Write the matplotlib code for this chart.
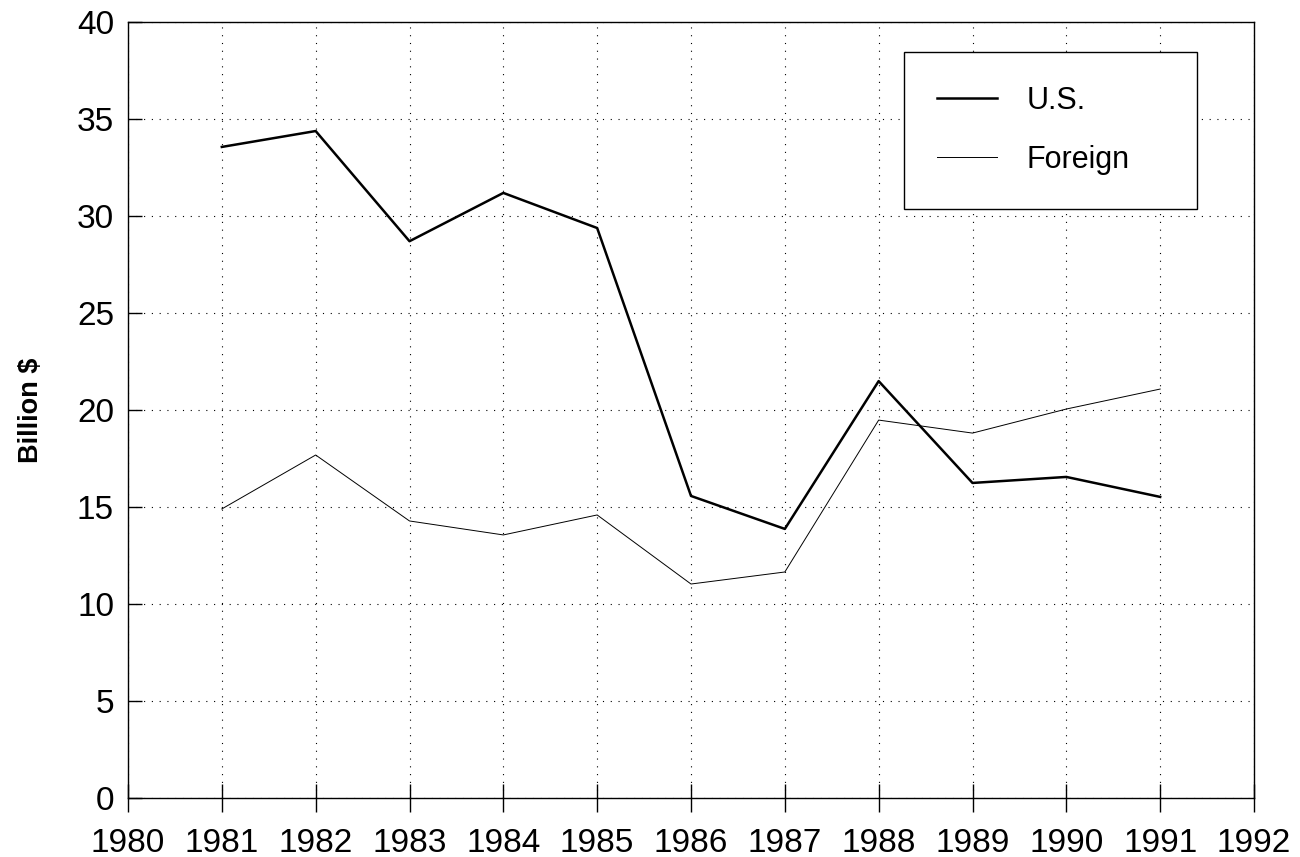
import numpy as np
import matplotlib
matplotlib.use('Agg')
import matplotlib.pyplot as plt

# 数据
years = [1981, 1982, 1983, 1984, 1985, 1986, 1987, 1988, 1989, 1990, 1991]
us = [33.56, 34.38, 28.70, 31.19, 29.38, 15.57, 13.87, 21.49, 16.24, 16.55, 15.52]
foreign = [14.90, 17.68, 14.28, 13.56, 14.59, 11.03, 11.65, 19.48, 18.81, 20.05, 21.08]

plt.rcParams['font.family'] = ['Liberation Sans', 'DejaVu Sans']

fig = plt.figure(figsize=(13, 8.57), dpi=100)
ax = fig.add_axes([128/1300, 59/857, 1126/1300, 776/857])

ax.plot(years, us, color='black', lw=1.8, label='U.S.')
ax.plot(years, foreign, color='black', lw=0.7, label='Foreign')

ax.set_xlim(1980, 1992)
ax.set_ylim(0, 40)
ax.set_xticks(range(1980, 1993))
ax.set_yticks(range(0, 41, 5))
ax.grid(True, color='black', linestyle=(0, (1, 6)), lw=0.8)
ax.tick_params(axis='x', direction='inout', length=19.5, width=1.0, labelsize=24, pad=12)
ax.tick_params(axis='y', direction='in', length=10, width=1.0, labelsize=24, pad=10)
for s in ax.spines.values():
    s.set_linewidth(1.0)
ax.set_ylabel('Billion $', fontsize=19.5, fontweight='bold', labelpad=24)

leg = ax.legend(loc='upper left', bbox_to_anchor=(0.689, 0.768, 0.260, 0.193), mode='expand',
                borderaxespad=0, fontsize=22, handlelength=1.96, handletextpad=0.95,
                borderpad=1.1, labelspacing=0.95, fancybox=False, framealpha=1,
                edgecolor='black')
leg.get_frame().set_linewidth(1.0)

plt.savefig('out.png', dpi=100)
